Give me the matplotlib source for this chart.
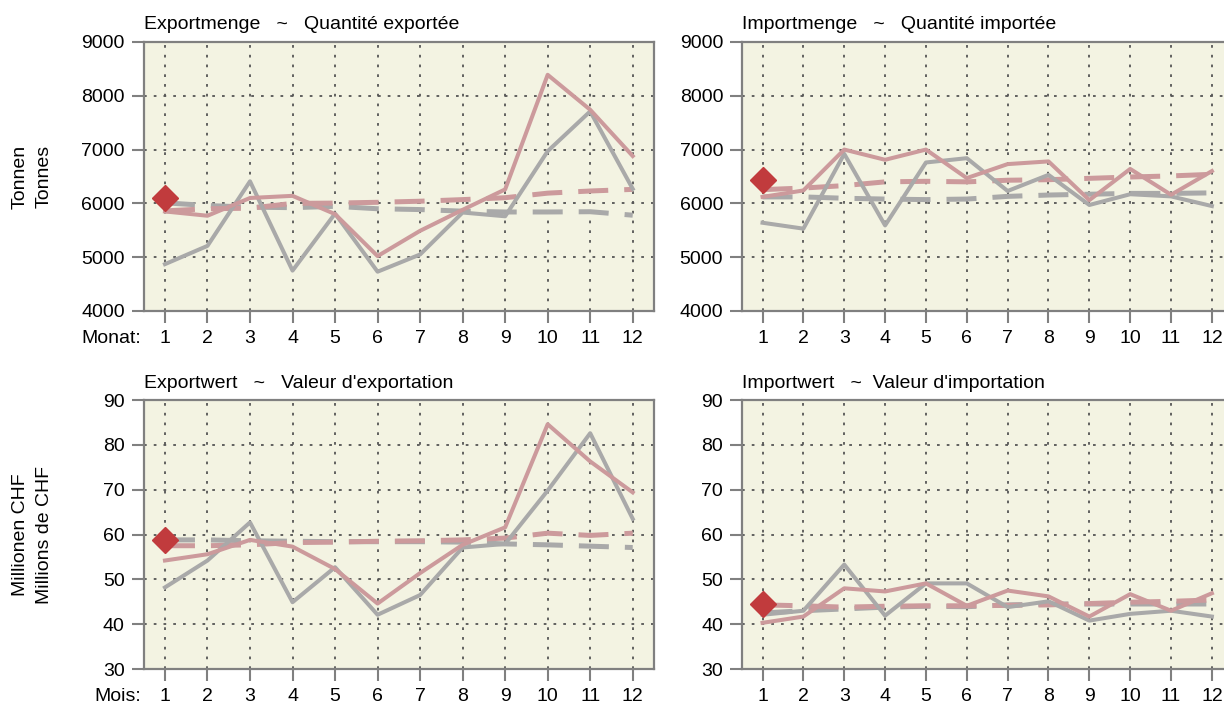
import numpy as np
import matplotlib.pyplot as plt

plt.rcParams['font.family'] = ['Liberation Sans', 'DejaVu Sans']

months = np.arange(1, 13)
month_labels = [str(m) for m in months]

# Exportmenge (Tonnen)
exp_qty_prev = [4870, 5210, 6410, 4750, 5810, 4730, 5050, 5830, 5760, 6970, 7710, 6270]
exp_qty_curr = [5850, 5770, 6100, 6140, 5800, 5020, 5490, 5880, 6260, 8390, 7740, 6880]
exp_qty_prev_avg = [6010, 5960, 5930, 5920, 5945, 5900, 5885, 5855, 5840, 5840, 5845, 5780]
exp_qty_curr_avg = [5860, 5900, 5910, 6000, 6005, 6020, 6040, 6070, 6105, 6190, 6230, 6260]
exp_qty_mark = 6100

# Importmenge (Tonnen)
imp_qty_prev = [5640, 5530, 6920, 5590, 6760, 6840, 6230, 6530, 5970, 6170, 6130, 5950]
imp_qty_curr = [6120, 6240, 7000, 6810, 7000, 6470, 6730, 6780, 6060, 6640, 6160, 6600]
imp_qty_prev_avg = [6120, 6120, 6095, 6080, 6070, 6080, 6130, 6155, 6170, 6185, 6185, 6195]
imp_qty_curr_avg = [6255, 6285, 6330, 6400, 6410, 6400, 6430, 6440, 6465, 6490, 6510, 6540]
imp_qty_mark = 6430

# Exportwert (Mio. CHF)
exp_val_prev = [48.2, 54.2, 62.7, 44.9, 52.7, 42.1, 46.5, 57.1, 57.9, 69.8, 82.6, 63.5]
exp_val_curr = [54.2, 55.6, 58.8, 57.3, 52.3, 44.6, 51.4, 57.7, 61.6, 84.6, 76.3, 69.4]
exp_val_prev_avg = [58.8, 58.8, 58.6, 58.5, 58.4, 58.4, 58.4, 58.3, 57.9, 57.7, 57.4, 57.1]
exp_val_curr_avg = [57.5, 57.5, 57.7, 58.2, 58.3, 58.5, 58.6, 58.8, 59.2, 60.3, 59.8, 60.3]
exp_val_mark = 58.8

# Importwert (Mio. CHF)
imp_val_prev = [42.1, 43.0, 53.3, 41.9, 49.1, 49.1, 43.8, 45.1, 40.8, 42.3, 43.0, 41.7]
imp_val_curr = [40.3, 41.7, 48.0, 47.3, 49.1, 44.1, 47.5, 46.2, 41.7, 46.7, 43.0, 46.9]
imp_val_prev_avg = [42.5, 43.0, 43.4, 43.8, 44.0, 43.9, 44.3, 44.5, 44.5, 44.5, 44.5, 44.5]
imp_val_curr_avg = [44.3, 44.1, 43.8, 44.0, 44.1, 44.1, 44.2, 44.3, 44.6, 44.9, 45.1, 45.4]
imp_val_mark = 44.6

qty_ticks = [4000, 5000, 6000, 7000, 8000, 9000]
val_ticks = [30, 40, 50, 60, 70, 80, 90]

GRAY = '#a9a9a9'
PINK = '#cc9a9c'
RED = '#c13b3d'
BG = '#f3f3e2'
SPINE = '#808080'
FS = 14


def draw_panel(ax, title, prev, curr, prev_avg, curr_avg, mark, yticks, month_word=None):
    ax.set_facecolor(BG)
    ax.set_xlim(0.5, 12.5)
    ax.set_ylim(yticks[0], yticks[-1])
    ax.set_xticks(months)
    ax.set_xticklabels(month_labels)
    ax.set_yticks(yticks)
    ax.tick_params(direction='out', length=8.6, width=1.5, color=SPINE,
                   labelsize=FS, pad=5)
    for s in ax.spines.values():
        s.set_color(SPINE)
        s.set_linewidth(1.6)
    ax.grid(True, color='#555555', linewidth=1.3, linestyle=(0, (1.5, 3.9)))
    ax.set_axisbelow(True)

    # dashed = average level, solid = monthly values
    ax.plot(months, prev_avg, color=GRAY, lw=3.6, dashes=(6.0, 3.2))
    ax.plot(months, curr_avg, color=PINK, lw=3.6, dashes=(6.0, 3.2))
    ax.plot(months, prev, color=GRAY, lw=2.9)
    ax.plot(months, curr, color=PINK, lw=2.9)
    ax.plot([1], [mark], marker='D', color=RED, markersize=13, linestyle='none')

    ax.set_title(title, loc='left', fontsize=FS, pad=9)

    if month_word:
        ax.annotate(month_word, xy=(0, 0), xycoords='axes fraction',
                    xytext=(-2, -14), textcoords='offset points',
                    ha='right', va='top', fontsize=FS)


fig = plt.figure(figsize=(12.24, 7.09), dpi=100)

ax_eq = fig.add_axes([0.1174, 0.5614, 0.4169, 0.3794])
ax_iq = fig.add_axes([0.6063, 0.5614, 0.4005, 0.3794])
ax_ev = fig.add_axes([0.1174, 0.0564, 0.4169, 0.3794])
ax_iv = fig.add_axes([0.6063, 0.0564, 0.4005, 0.3794])

draw_panel(ax_eq, 'Exportmenge   ~   Quantité exportée', exp_qty_prev, exp_qty_curr,
           exp_qty_prev_avg, exp_qty_curr_avg, exp_qty_mark, qty_ticks, 'Monat:')
draw_panel(ax_iq, 'Importmenge   ~   Quantité importée', imp_qty_prev, imp_qty_curr,
           imp_qty_prev_avg, imp_qty_curr_avg, imp_qty_mark, qty_ticks)
draw_panel(ax_ev, "Exportwert   ~   Valeur d'exportation", exp_val_prev, exp_val_curr,
           exp_val_prev_avg, exp_val_curr_avg, exp_val_mark, val_ticks, 'Mois:')
draw_panel(ax_iv, "Importwert   ~  Valeur d'importation", imp_val_prev, imp_val_curr,
           imp_val_prev_avg, imp_val_curr_avg, imp_val_mark, val_ticks)

fig.text(0.0265, 0.751, 'Tonnen\nTonnes', rotation=90, ha='center', va='center',
         ma='center', fontsize=FS, linespacing=1.55)
fig.text(0.0265, 0.246, 'Millionen CHF\nMillions de CHF', rotation=90, ha='center',
         va='center', ma='center', fontsize=FS, linespacing=1.55)

fig.savefig('out.png', dpi=100)
